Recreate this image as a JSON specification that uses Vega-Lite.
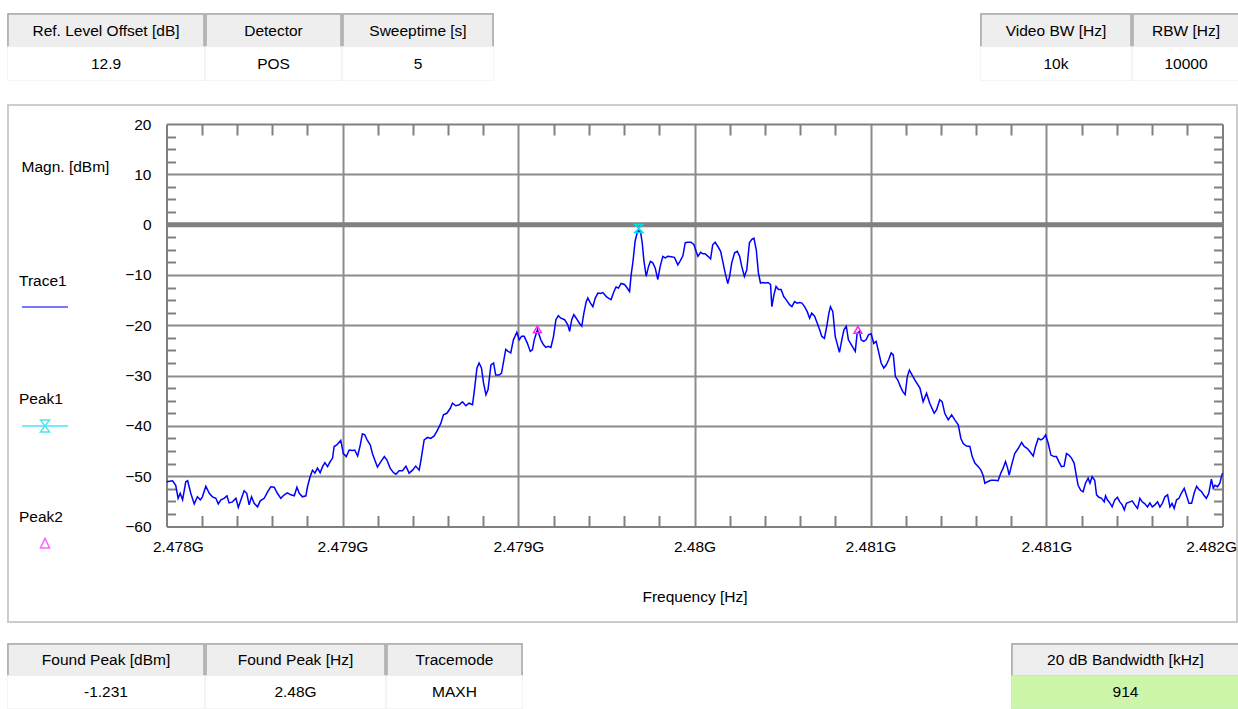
{
  "$schema": "https://vega.github.io/schema/vega-lite/v6.json",
  "background": "#ffffff",
  "padding": {"left": 6, "top": 12, "right": 0, "bottom": 0},
  "config": {
    "view": {"stroke": null},
    "axis": {
      "labelFont": "Liberation Sans", "labelFontSize": 15.5, "labelColor": "#000000",
      "titleFont": "Liberation Sans", "titleFontSize": 15.5, "titleFontWeight": "normal", "titleColor": "#000000",
      "domainColor": "#808080", "domainWidth": 2, "tickColor": "#808080", "tickWidth": 2,
      "gridColor": "#8c8c8c", "gridWidth": 2, "gridOpacity": 1
    },
    "text": {"font": "Liberation Sans", "fontSize": 15.5}
  },
  "resolve": {"scale": {"fill": "independent", "stroke": "independent", "color": "independent", "shape": "independent"}},
  "vconcat": [
    {
      "resolve": {"scale": {"fill": "independent", "stroke": "independent"}},
      "hconcat": [
        {
          "resolve": {"scale": {"fill": "independent", "stroke": "independent"}},
          "hconcat": [
            {"width": 196, "height": 66, "view": {"stroke": "#c9c9c9", "strokeWidth": 1.5, "fill": "#ffffff"},
             "data": {"values": [{"part": "header", "label": "Ref. Level Offset [dB]"}, {"part": "value", "label": "12.9"}]},
             "layer": [
               {"mark": {"type": "rect", "strokeWidth": 1.5}, "encoding": {
                 "y": {"field": "part", "type": "nominal", "scale": {"domain": ["header", "value"], "paddingInner": 0, "paddingOuter": 0}, "axis": null},
                 "fill": {"field": "part", "type": "nominal", "scale": {"domain": ["header", "value"], "range": ["#eeeeee", "#ffffff"]}, "legend": null},
                 "stroke": {"field": "part", "type": "nominal", "scale": {"domain": ["header", "value"], "range": ["#a9a9a9", "#ffffff"]}, "legend": null}}},
               {"mark": {"type": "text", "color": "#000000"}, "encoding": {"y": {"field": "part", "type": "nominal", "axis": null}, "text": {"field": "label"}}}
             ]},
            {"width": 135, "height": 66, "view": {"stroke": "#c9c9c9", "strokeWidth": 1.5, "fill": "#ffffff"},
             "data": {"values": [{"part": "header", "label": "Detector"}, {"part": "value", "label": "POS"}]},
             "layer": [
               {"mark": {"type": "rect", "strokeWidth": 1.5}, "encoding": {
                 "y": {"field": "part", "type": "nominal", "scale": {"domain": ["header", "value"], "paddingInner": 0, "paddingOuter": 0}, "axis": null},
                 "fill": {"field": "part", "type": "nominal", "scale": {"domain": ["header", "value"], "range": ["#eeeeee", "#ffffff"]}, "legend": null},
                 "stroke": {"field": "part", "type": "nominal", "scale": {"domain": ["header", "value"], "range": ["#a9a9a9", "#ffffff"]}, "legend": null}}},
               {"mark": {"type": "text", "color": "#000000"}, "encoding": {"y": {"field": "part", "type": "nominal", "axis": null}, "text": {"field": "label"}}}
             ]},
            {"width": 150, "height": 66, "view": {"stroke": "#c9c9c9", "strokeWidth": 1.5, "fill": "#ffffff"},
             "data": {"values": [{"part": "header", "label": "Sweeptime [s]"}, {"part": "value", "label": "5"}]},
             "layer": [
               {"mark": {"type": "rect", "strokeWidth": 1.5}, "encoding": {
                 "y": {"field": "part", "type": "nominal", "scale": {"domain": ["header", "value"], "paddingInner": 0, "paddingOuter": 0}, "axis": null},
                 "fill": {"field": "part", "type": "nominal", "scale": {"domain": ["header", "value"], "range": ["#eeeeee", "#ffffff"]}, "legend": null},
                 "stroke": {"field": "part", "type": "nominal", "scale": {"domain": ["header", "value"], "range": ["#a9a9a9", "#ffffff"]}, "legend": null}}},
               {"mark": {"type": "text", "color": "#000000"}, "encoding": {"y": {"field": "part", "type": "nominal", "axis": null}, "text": {"field": "label"}}}
             ]}
          ],
          "spacing": 2, "bounds": "flush"
        },
        {
          "resolve": {"scale": {"fill": "independent", "stroke": "independent"}},
          "hconcat": [
            {"width": 150, "height": 66, "view": {"stroke": "#c9c9c9", "strokeWidth": 1.5, "fill": "#ffffff"},
             "data": {"values": [{"part": "header", "label": "Video BW [Hz]"}, {"part": "value", "label": "10k"}]},
             "layer": [
               {"mark": {"type": "rect", "strokeWidth": 1.5}, "encoding": {
                 "y": {"field": "part", "type": "nominal", "scale": {"domain": ["header", "value"], "paddingInner": 0, "paddingOuter": 0}, "axis": null},
                 "fill": {"field": "part", "type": "nominal", "scale": {"domain": ["header", "value"], "range": ["#eeeeee", "#ffffff"]}, "legend": null},
                 "stroke": {"field": "part", "type": "nominal", "scale": {"domain": ["header", "value"], "range": ["#a9a9a9", "#ffffff"]}, "legend": null}}},
               {"mark": {"type": "text", "color": "#000000"}, "encoding": {"y": {"field": "part", "type": "nominal", "axis": null}, "text": {"field": "label"}}}
             ]},
            {"width": 106, "height": 66, "view": {"stroke": "#c9c9c9", "strokeWidth": 1.5, "fill": "#ffffff"},
             "data": {"values": [{"part": "header", "label": "RBW [Hz]"}, {"part": "value", "label": "10000"}]},
             "layer": [
               {"mark": {"type": "rect", "strokeWidth": 1.5}, "encoding": {
                 "y": {"field": "part", "type": "nominal", "scale": {"domain": ["header", "value"], "paddingInner": 0, "paddingOuter": 0}, "axis": null},
                 "fill": {"field": "part", "type": "nominal", "scale": {"domain": ["header", "value"], "range": ["#eeeeee", "#ffffff"]}, "legend": null},
                 "stroke": {"field": "part", "type": "nominal", "scale": {"domain": ["header", "value"], "range": ["#a9a9a9", "#ffffff"]}, "legend": null}}},
               {"mark": {"type": "text", "color": "#000000"}, "encoding": {"y": {"field": "part", "type": "nominal", "axis": null}, "text": {"field": "label"}}}
             ]}
          ],
          "spacing": 2, "bounds": "flush"
        }
      ],
      "spacing": 484
    },
    {
      "resolve": {"scale": {"fill": "independent", "stroke": "independent", "color": "independent", "shape": "independent"}},
      "vconcat": [
        {
          "width": 1229, "height": 517,
          "view": {"stroke": "#cccccc", "strokeWidth": 2, "fill": "#ffffff"},
          "resolve": {"axis": {"x": "independent", "y": "independent"}},
          "layer": [
            {
              "data": {"values": [{"level": 0}]},
              "mark": {"type": "rule", "color": "#808080", "strokeWidth": 5},
              "encoding": {
                "x": {"datum": 2478, "type": "quantitative",
                  "scale": {"domain": [2478, 2482], "range": [158.5, 1214.5], "nice": false, "zero": false},
                  "axis": {"orient": "top", "offset": -19, "values": [2478.6666667, 2479.3333333, 2480, 2480.6666667, 2481.3333333], "grid": true, "ticks": false, "labels": false, "domain": true, "title": null}},
                "x2": {"datum": 2482},
                "y": {"field": "level", "type": "quantitative",
                  "scale": {"domain": [-60, 20], "range": [421.5, 19], "nice": false, "zero": false},
                  "axis": {"orient": "left", "offset": -158.5, "values": [-50, -40, -30, -20, -10, 0, 10], "grid": true, "ticks": false, "labels": false, "domain": false, "title": null}}
              }
            },
            {
              "data": {"values": [
{"freq_mhz":2478.000,"magn_dbm":-51.1},{"freq_mhz":2478.023,"magn_dbm":-50.9},{"freq_mhz":2478.035,"magn_dbm":-51.8},{"freq_mhz":2478.044,"magn_dbm":-54.4},{"freq_mhz":2478.052,"magn_dbm":-53.4},{"freq_mhz":2478.061,"magn_dbm":-54.7},{"freq_mhz":2478.073,"magn_dbm":-51.1},{"freq_mhz":2478.080,"magn_dbm":-50.9},{"freq_mhz":2478.092,"magn_dbm":-53.4},{"freq_mhz":2478.105,"magn_dbm":-55.5},
{"freq_mhz":2478.117,"magn_dbm":-54.1},{"freq_mhz":2478.128,"magn_dbm":-54.7},{"freq_mhz":2478.136,"magn_dbm":-54.1},{"freq_mhz":2478.149,"magn_dbm":-52.0},{"freq_mhz":2478.162,"magn_dbm":-53.4},{"freq_mhz":2478.174,"magn_dbm":-54.1},{"freq_mhz":2478.187,"magn_dbm":-54.4},{"freq_mhz":2478.196,"magn_dbm":-55.5},{"freq_mhz":2478.206,"magn_dbm":-54.7},{"freq_mhz":2478.218,"magn_dbm":-54.4},
{"freq_mhz":2478.229,"magn_dbm":-53.9},{"freq_mhz":2478.237,"magn_dbm":-55.3},{"freq_mhz":2478.250,"magn_dbm":-55.1},{"freq_mhz":2478.263,"magn_dbm":-54.4},{"freq_mhz":2478.272,"magn_dbm":-56.2},{"freq_mhz":2478.284,"magn_dbm":-54.4},{"freq_mhz":2478.294,"magn_dbm":-52.9},{"freq_mhz":2478.304,"magn_dbm":-53.4},{"freq_mhz":2478.313,"magn_dbm":-55.7},{"freq_mhz":2478.322,"magn_dbm":-54.1},
{"freq_mhz":2478.332,"magn_dbm":-55.4},{"freq_mhz":2478.345,"magn_dbm":-56.1},{"freq_mhz":2478.355,"magn_dbm":-54.9},{"freq_mhz":2478.370,"magn_dbm":-54.4},{"freq_mhz":2478.383,"magn_dbm":-53.1},{"freq_mhz":2478.395,"magn_dbm":-52.1},{"freq_mhz":2478.408,"magn_dbm":-52.2},{"freq_mhz":2478.420,"magn_dbm":-53.4},{"freq_mhz":2478.433,"magn_dbm":-54.4},{"freq_mhz":2478.446,"magn_dbm":-53.7},
{"freq_mhz":2478.458,"magn_dbm":-53.3},{"freq_mhz":2478.471,"magn_dbm":-53.7},{"freq_mhz":2478.484,"magn_dbm":-53.9},{"freq_mhz":2478.494,"magn_dbm":-52.2},{"freq_mhz":2478.503,"magn_dbm":-53.4},{"freq_mhz":2478.515,"magn_dbm":-54.1},{"freq_mhz":2478.528,"magn_dbm":-53.9},{"freq_mhz":2478.534,"magn_dbm":-52.1},{"freq_mhz":2478.544,"magn_dbm":-50.1},{"freq_mhz":2478.553,"magn_dbm":-48.8},
{"freq_mhz":2478.562,"magn_dbm":-49.4},{"freq_mhz":2478.572,"magn_dbm":-48.4},{"freq_mhz":2478.582,"magn_dbm":-49.3},{"freq_mhz":2478.591,"magn_dbm":-48.1},{"freq_mhz":2478.600,"magn_dbm":-47.3},{"freq_mhz":2478.610,"magn_dbm":-48.1},{"freq_mhz":2478.620,"magn_dbm":-47.1},{"freq_mhz":2478.629,"magn_dbm":-46.4},{"freq_mhz":2478.635,"magn_dbm":-44.1},{"freq_mhz":2478.645,"magn_dbm":-43.8},
{"freq_mhz":2478.660,"magn_dbm":-42.9},{"freq_mhz":2478.670,"magn_dbm":-45.5},{"freq_mhz":2478.681,"magn_dbm":-46.1},{"freq_mhz":2478.692,"magn_dbm":-44.8},{"freq_mhz":2478.705,"magn_dbm":-44.9},{"freq_mhz":2478.713,"magn_dbm":-44.8},{"freq_mhz":2478.724,"magn_dbm":-46.0},{"freq_mhz":2478.734,"magn_dbm":-43.8},{"freq_mhz":2478.742,"magn_dbm":-41.6},{"freq_mhz":2478.751,"magn_dbm":-41.8},
{"freq_mhz":2478.761,"magn_dbm":-42.9},{"freq_mhz":2478.772,"magn_dbm":-43.8},{"freq_mhz":2478.780,"magn_dbm":-45.5},{"freq_mhz":2478.789,"magn_dbm":-46.8},{"freq_mhz":2478.799,"magn_dbm":-48.2},{"freq_mhz":2478.812,"magn_dbm":-47.1},{"freq_mhz":2478.825,"magn_dbm":-46.1},{"freq_mhz":2478.835,"magn_dbm":-46.8},{"freq_mhz":2478.847,"magn_dbm":-48.4},{"freq_mhz":2478.860,"magn_dbm":-49.3},
{"freq_mhz":2478.869,"magn_dbm":-49.6},{"freq_mhz":2478.881,"magn_dbm":-48.9},{"freq_mhz":2478.894,"magn_dbm":-48.9},{"freq_mhz":2478.907,"magn_dbm":-48.0},{"freq_mhz":2478.919,"magn_dbm":-49.4},{"freq_mhz":2478.932,"magn_dbm":-48.8},{"freq_mhz":2478.944,"magn_dbm":-48.0},{"freq_mhz":2478.957,"magn_dbm":-48.8},{"freq_mhz":2478.963,"magn_dbm":-47.1},{"freq_mhz":2478.976,"magn_dbm":-42.8},
{"freq_mhz":2478.989,"magn_dbm":-42.3},{"freq_mhz":2479.001,"magn_dbm":-42.5},{"freq_mhz":2479.014,"magn_dbm":-42.0},{"freq_mhz":2479.027,"magn_dbm":-40.8},{"freq_mhz":2479.039,"magn_dbm":-39.5},{"freq_mhz":2479.049,"magn_dbm":-37.8},{"freq_mhz":2479.062,"magn_dbm":-37.5},{"freq_mhz":2479.075,"magn_dbm":-36.5},{"freq_mhz":2479.083,"magn_dbm":-35.5},{"freq_mhz":2479.096,"magn_dbm":-36.0},
{"freq_mhz":2479.109,"magn_dbm":-35.8},{"freq_mhz":2479.121,"magn_dbm":-35.2},{"freq_mhz":2479.134,"magn_dbm":-36.0},{"freq_mhz":2479.146,"magn_dbm":-35.5},{"freq_mhz":2479.159,"magn_dbm":-35.8},{"freq_mhz":2479.165,"magn_dbm":-33.5},{"freq_mhz":2479.176,"magn_dbm":-28.5},{"freq_mhz":2479.184,"magn_dbm":-27.5},{"freq_mhz":2479.193,"magn_dbm":-28.5},{"freq_mhz":2479.201,"magn_dbm":-31.5},
{"freq_mhz":2479.210,"magn_dbm":-33.8},{"freq_mhz":2479.218,"magn_dbm":-32.8},{"freq_mhz":2479.229,"magn_dbm":-27.9},{"freq_mhz":2479.239,"magn_dbm":-27.5},{"freq_mhz":2479.247,"magn_dbm":-29.9},{"freq_mhz":2479.260,"magn_dbm":-29.9},{"freq_mhz":2479.269,"magn_dbm":-29.5},{"freq_mhz":2479.277,"magn_dbm":-27.2},{"freq_mhz":2479.285,"magn_dbm":-24.8},{"freq_mhz":2479.294,"magn_dbm":-25.2},
{"freq_mhz":2479.304,"magn_dbm":-25.5},{"freq_mhz":2479.314,"magn_dbm":-22.9},{"freq_mhz":2479.327,"magn_dbm":-21.4},{"freq_mhz":2479.336,"magn_dbm":-22.9},{"freq_mhz":2479.345,"magn_dbm":-22.2},{"freq_mhz":2479.355,"magn_dbm":-22.2},{"freq_mhz":2479.367,"magn_dbm":-23.6},{"freq_mhz":2479.378,"magn_dbm":-25.2},{"freq_mhz":2479.386,"magn_dbm":-24.9},{"freq_mhz":2479.393,"magn_dbm":-22.9},
{"freq_mhz":2479.405,"magn_dbm":-20.9},{"freq_mhz":2479.418,"magn_dbm":-22.9},{"freq_mhz":2479.428,"magn_dbm":-23.9},{"freq_mhz":2479.437,"magn_dbm":-24.4},{"freq_mhz":2479.446,"magn_dbm":-24.2},{"freq_mhz":2479.456,"magn_dbm":-24.4},{"freq_mhz":2479.466,"magn_dbm":-22.2},{"freq_mhz":2479.475,"magn_dbm":-18.9},{"freq_mhz":2479.484,"magn_dbm":-18.1},{"freq_mhz":2479.494,"magn_dbm":-18.6},
{"freq_mhz":2479.508,"magn_dbm":-18.9},{"freq_mhz":2479.520,"magn_dbm":-19.9},{"freq_mhz":2479.527,"magn_dbm":-21.2},{"freq_mhz":2479.535,"magn_dbm":-18.9},{"freq_mhz":2479.543,"magn_dbm":-17.9},{"freq_mhz":2479.552,"magn_dbm":-18.6},{"freq_mhz":2479.564,"magn_dbm":-19.6},{"freq_mhz":2479.573,"magn_dbm":-20.2},{"freq_mhz":2479.581,"magn_dbm":-17.6},{"freq_mhz":2479.590,"magn_dbm":-15.3},
{"freq_mhz":2479.596,"magn_dbm":-14.6},{"freq_mhz":2479.606,"magn_dbm":-15.6},{"freq_mhz":2479.615,"magn_dbm":-16.3},{"freq_mhz":2479.624,"magn_dbm":-14.6},{"freq_mhz":2479.634,"magn_dbm":-13.6},{"freq_mhz":2479.644,"magn_dbm":-13.7},{"freq_mhz":2479.653,"magn_dbm":-13.5},{"freq_mhz":2479.666,"magn_dbm":-14.3},{"freq_mhz":2479.674,"magn_dbm":-14.6},{"freq_mhz":2479.684,"magn_dbm":-14.9},
{"freq_mhz":2479.695,"magn_dbm":-13.3},{"freq_mhz":2479.703,"magn_dbm":-12.4},{"freq_mhz":2479.712,"magn_dbm":-12.6},{"freq_mhz":2479.722,"magn_dbm":-11.7},{"freq_mhz":2479.735,"magn_dbm":-11.9},{"freq_mhz":2479.745,"magn_dbm":-12.6},{"freq_mhz":2479.754,"magn_dbm":-13.3},{"freq_mhz":2479.760,"magn_dbm":-10.0},{"freq_mhz":2479.767,"magn_dbm":-7.3},{"freq_mhz":2479.775,"magn_dbm":-3.3},
{"freq_mhz":2479.783,"magn_dbm":-1.6},{"freq_mhz":2479.789,"magn_dbm":-1.231},{"freq_mhz":2479.796,"magn_dbm":-1.6},{"freq_mhz":2479.802,"magn_dbm":-3.6},{"freq_mhz":2479.808,"magn_dbm":-7.0},{"freq_mhz":2479.817,"magn_dbm":-10.3},{"freq_mhz":2479.826,"magn_dbm":-8.3},{"freq_mhz":2479.833,"magn_dbm":-7.3},{"freq_mhz":2479.842,"magn_dbm":-7.6},{"freq_mhz":2479.851,"magn_dbm":-8.6},
{"freq_mhz":2479.861,"magn_dbm":-10.9},{"freq_mhz":2479.870,"magn_dbm":-8.3},{"freq_mhz":2479.880,"magn_dbm":-6.3},{"freq_mhz":2479.889,"magn_dbm":-6.6},{"freq_mhz":2479.899,"magn_dbm":-6.3},{"freq_mhz":2479.912,"magn_dbm":-6.4},{"freq_mhz":2479.924,"magn_dbm":-6.5},{"freq_mhz":2479.937,"magn_dbm":-8.0},{"freq_mhz":2479.947,"magn_dbm":-7.1},{"freq_mhz":2479.956,"magn_dbm":-6.2},
{"freq_mhz":2479.965,"magn_dbm":-3.6},{"freq_mhz":2479.975,"magn_dbm":-3.5},{"freq_mhz":2479.987,"magn_dbm":-3.5},{"freq_mhz":2479.998,"magn_dbm":-4.0},{"freq_mhz":2480.006,"magn_dbm":-5.3},{"freq_mhz":2480.013,"magn_dbm":-6.3},{"freq_mhz":2480.023,"magn_dbm":-5.5},{"freq_mhz":2480.032,"magn_dbm":-5.8},{"freq_mhz":2480.040,"magn_dbm":-5.8},{"freq_mhz":2480.051,"magn_dbm":-6.3},
{"freq_mhz":2480.061,"magn_dbm":-6.8},{"freq_mhz":2480.069,"magn_dbm":-4.0},{"freq_mhz":2480.078,"magn_dbm":-3.5},{"freq_mhz":2480.088,"magn_dbm":-4.3},{"freq_mhz":2480.099,"magn_dbm":-5.3},{"freq_mhz":2480.107,"magn_dbm":-7.3},{"freq_mhz":2480.116,"magn_dbm":-9.6},{"freq_mhz":2480.126,"magn_dbm":-11.7},{"freq_mhz":2480.133,"magn_dbm":-10.3},{"freq_mhz":2480.141,"magn_dbm":-7.6},
{"freq_mhz":2480.152,"magn_dbm":-5.6},{"freq_mhz":2480.162,"magn_dbm":-5.3},{"freq_mhz":2480.171,"magn_dbm":-6.3},{"freq_mhz":2480.179,"magn_dbm":-8.3},{"freq_mhz":2480.189,"magn_dbm":-10.3},{"freq_mhz":2480.198,"magn_dbm":-9.0},{"freq_mhz":2480.208,"magn_dbm":-3.6},{"freq_mhz":2480.217,"magn_dbm":-2.9},{"freq_mhz":2480.225,"magn_dbm":-2.7},{"freq_mhz":2480.234,"magn_dbm":-5.0},
{"freq_mhz":2480.242,"magn_dbm":-9.6},{"freq_mhz":2480.250,"magn_dbm":-11.6},{"freq_mhz":2480.259,"magn_dbm":-11.5},{"freq_mhz":2480.268,"magn_dbm":-11.6},{"freq_mhz":2480.278,"magn_dbm":-11.5},{"freq_mhz":2480.288,"magn_dbm":-11.9},{"freq_mhz":2480.293,"magn_dbm":-16.3},{"freq_mhz":2480.301,"magn_dbm":-13.9},{"freq_mhz":2480.309,"magn_dbm":-12.3},{"freq_mhz":2480.318,"magn_dbm":-12.9},
{"freq_mhz":2480.328,"magn_dbm":-12.9},{"freq_mhz":2480.338,"magn_dbm":-14.3},{"freq_mhz":2480.347,"magn_dbm":-14.9},{"freq_mhz":2480.360,"magn_dbm":-15.9},{"freq_mhz":2480.369,"magn_dbm":-16.3},{"freq_mhz":2480.379,"magn_dbm":-15.3},{"freq_mhz":2480.389,"magn_dbm":-15.6},{"freq_mhz":2480.398,"magn_dbm":-15.5},{"freq_mhz":2480.407,"magn_dbm":-15.6},{"freq_mhz":2480.417,"magn_dbm":-16.3},
{"freq_mhz":2480.427,"magn_dbm":-17.3},{"freq_mhz":2480.436,"magn_dbm":-18.6},{"freq_mhz":2480.444,"magn_dbm":-17.6},{"freq_mhz":2480.455,"magn_dbm":-18.2},{"freq_mhz":2480.465,"magn_dbm":-19.6},{"freq_mhz":2480.474,"magn_dbm":-20.9},{"freq_mhz":2480.482,"magn_dbm":-22.2},{"freq_mhz":2480.492,"magn_dbm":-22.6},{"freq_mhz":2480.501,"magn_dbm":-20.2},{"freq_mhz":2480.509,"magn_dbm":-17.6},
{"freq_mhz":2480.515,"magn_dbm":-16.3},{"freq_mhz":2480.524,"magn_dbm":-17.3},{"freq_mhz":2480.533,"magn_dbm":-22.2},{"freq_mhz":2480.540,"magn_dbm":-23.6},{"freq_mhz":2480.549,"magn_dbm":-25.4},{"freq_mhz":2480.558,"magn_dbm":-22.9},{"freq_mhz":2480.566,"magn_dbm":-20.9},{"freq_mhz":2480.575,"magn_dbm":-20.2},{"freq_mhz":2480.583,"magn_dbm":-22.9},{"freq_mhz":2480.591,"magn_dbm":-23.6},
{"freq_mhz":2480.600,"magn_dbm":-24.4},{"freq_mhz":2480.609,"magn_dbm":-25.2},{"freq_mhz":2480.616,"magn_dbm":-21.6},{"freq_mhz":2480.625,"magn_dbm":-21.2},{"freq_mhz":2480.631,"magn_dbm":-22.9},{"freq_mhz":2480.641,"magn_dbm":-23.2},{"freq_mhz":2480.650,"magn_dbm":-22.9},{"freq_mhz":2480.659,"magn_dbm":-21.9},{"freq_mhz":2480.669,"magn_dbm":-21.7},{"freq_mhz":2480.679,"magn_dbm":-23.6},
{"freq_mhz":2480.688,"magn_dbm":-23.2},{"freq_mhz":2480.697,"magn_dbm":-25.2},{"freq_mhz":2480.707,"magn_dbm":-27.5},{"freq_mhz":2480.717,"magn_dbm":-28.5},{"freq_mhz":2480.726,"magn_dbm":-27.9},{"freq_mhz":2480.735,"magn_dbm":-26.9},{"freq_mhz":2480.745,"magn_dbm":-25.5},{"freq_mhz":2480.753,"magn_dbm":-25.9},{"freq_mhz":2480.761,"magn_dbm":-30.2},{"freq_mhz":2480.770,"magn_dbm":-30.9},
{"freq_mhz":2480.780,"magn_dbm":-32.2},{"freq_mhz":2480.789,"magn_dbm":-33.2},{"freq_mhz":2480.798,"magn_dbm":-33.8},{"freq_mhz":2480.806,"magn_dbm":-30.2},{"freq_mhz":2480.814,"magn_dbm":-28.9},{"freq_mhz":2480.835,"magn_dbm":-30.9},{"freq_mhz":2480.854,"magn_dbm":-32.5},{"freq_mhz":2480.866,"magn_dbm":-35.2},{"freq_mhz":2480.879,"magn_dbm":-33.5},{"freq_mhz":2480.891,"magn_dbm":-35.5},
{"freq_mhz":2480.908,"magn_dbm":-37.5},{"freq_mhz":2480.917,"magn_dbm":-36.8},{"freq_mhz":2480.929,"magn_dbm":-34.8},{"freq_mhz":2480.938,"magn_dbm":-35.2},{"freq_mhz":2480.948,"magn_dbm":-37.5},{"freq_mhz":2480.961,"magn_dbm":-38.8},{"freq_mhz":2480.974,"magn_dbm":-37.8},{"freq_mhz":2480.986,"magn_dbm":-38.8},{"freq_mhz":2480.999,"magn_dbm":-39.8},{"freq_mhz":2481.009,"magn_dbm":-42.5},
{"freq_mhz":2481.018,"magn_dbm":-43.5},{"freq_mhz":2481.030,"magn_dbm":-44.0},{"freq_mhz":2481.043,"magn_dbm":-44.1},{"freq_mhz":2481.052,"magn_dbm":-46.1},{"freq_mhz":2481.062,"magn_dbm":-47.4},{"freq_mhz":2481.075,"magn_dbm":-48.1},{"freq_mhz":2481.085,"magn_dbm":-48.8},{"freq_mhz":2481.093,"magn_dbm":-49.8},{"freq_mhz":2481.100,"magn_dbm":-51.4},{"freq_mhz":2481.110,"magn_dbm":-51.1},
{"freq_mhz":2481.123,"magn_dbm":-50.8},{"freq_mhz":2481.138,"magn_dbm":-50.8},{"freq_mhz":2481.150,"magn_dbm":-50.9},{"freq_mhz":2481.160,"magn_dbm":-49.4},{"freq_mhz":2481.169,"magn_dbm":-48.4},{"freq_mhz":2481.178,"magn_dbm":-47.1},{"freq_mhz":2481.186,"magn_dbm":-48.4},{"freq_mhz":2481.192,"magn_dbm":-49.8},{"freq_mhz":2481.201,"magn_dbm":-47.8},{"freq_mhz":2481.213,"magn_dbm":-45.5},
{"freq_mhz":2481.226,"magn_dbm":-44.5},{"freq_mhz":2481.239,"magn_dbm":-43.3},{"freq_mhz":2481.249,"magn_dbm":-44.1},{"freq_mhz":2481.261,"magn_dbm":-44.5},{"freq_mhz":2481.270,"magn_dbm":-45.1},{"freq_mhz":2481.283,"magn_dbm":-46.0},{"freq_mhz":2481.292,"magn_dbm":-44.1},{"freq_mhz":2481.302,"magn_dbm":-42.5},{"freq_mhz":2481.312,"magn_dbm":-42.8},{"freq_mhz":2481.321,"magn_dbm":-42.5},
{"freq_mhz":2481.330,"magn_dbm":-41.8},{"freq_mhz":2481.340,"magn_dbm":-43.5},{"freq_mhz":2481.350,"magn_dbm":-45.8},{"freq_mhz":2481.362,"magn_dbm":-46.1},{"freq_mhz":2481.371,"magn_dbm":-46.1},{"freq_mhz":2481.380,"magn_dbm":-47.1},{"freq_mhz":2481.390,"magn_dbm":-48.1},{"freq_mhz":2481.400,"magn_dbm":-48.0},{"freq_mhz":2481.409,"magn_dbm":-45.5},{"freq_mhz":2481.418,"magn_dbm":-45.8},
{"freq_mhz":2481.428,"magn_dbm":-46.4},{"freq_mhz":2481.438,"magn_dbm":-47.4},{"freq_mhz":2481.447,"magn_dbm":-50.1},{"freq_mhz":2481.453,"magn_dbm":-51.8},{"freq_mhz":2481.463,"magn_dbm":-52.8},{"freq_mhz":2481.472,"magn_dbm":-53.1},{"freq_mhz":2481.481,"magn_dbm":-51.4},{"freq_mhz":2481.491,"magn_dbm":-50.4},{"freq_mhz":2481.498,"magn_dbm":-51.4},{"freq_mhz":2481.506,"magn_dbm":-50.1},
{"freq_mhz":2481.516,"magn_dbm":-50.8},{"freq_mhz":2481.523,"magn_dbm":-53.7},{"freq_mhz":2481.532,"magn_dbm":-54.2},{"freq_mhz":2481.542,"magn_dbm":-54.4},{"freq_mhz":2481.552,"magn_dbm":-55.1},{"freq_mhz":2481.557,"magn_dbm":-53.9},{"freq_mhz":2481.564,"magn_dbm":-54.7},{"freq_mhz":2481.573,"magn_dbm":-55.3},{"freq_mhz":2481.582,"magn_dbm":-56.1},{"freq_mhz":2481.592,"magn_dbm":-54.7},
{"freq_mhz":2481.602,"magn_dbm":-54.2},{"freq_mhz":2481.611,"magn_dbm":-55.1},{"freq_mhz":2481.620,"magn_dbm":-55.7},{"freq_mhz":2481.628,"magn_dbm":-56.7},{"freq_mhz":2481.636,"magn_dbm":-55.4},{"freq_mhz":2481.649,"magn_dbm":-55.1},{"freq_mhz":2481.658,"magn_dbm":-54.9},{"freq_mhz":2481.668,"magn_dbm":-55.7},{"freq_mhz":2481.678,"magn_dbm":-56.4},{"freq_mhz":2481.687,"magn_dbm":-54.4},
{"freq_mhz":2481.696,"magn_dbm":-55.1},{"freq_mhz":2481.706,"magn_dbm":-55.5},{"freq_mhz":2481.716,"magn_dbm":-56.1},{"freq_mhz":2481.725,"magn_dbm":-55.3},{"freq_mhz":2481.734,"magn_dbm":-56.1},{"freq_mhz":2481.744,"magn_dbm":-55.7},{"freq_mhz":2481.754,"magn_dbm":-55.1},{"freq_mhz":2481.763,"magn_dbm":-56.1},{"freq_mhz":2481.772,"magn_dbm":-55.4},{"freq_mhz":2481.782,"magn_dbm":-54.1},
{"freq_mhz":2481.792,"magn_dbm":-53.7},{"freq_mhz":2481.801,"magn_dbm":-56.1},{"freq_mhz":2481.809,"magn_dbm":-55.4},{"freq_mhz":2481.817,"magn_dbm":-56.4},{"freq_mhz":2481.826,"magn_dbm":-54.7},{"freq_mhz":2481.835,"magn_dbm":-54.4},{"freq_mhz":2481.845,"magn_dbm":-53.3},{"freq_mhz":2481.855,"magn_dbm":-52.4},{"freq_mhz":2481.864,"magn_dbm":-53.9},{"freq_mhz":2481.873,"magn_dbm":-55.4},
{"freq_mhz":2481.883,"magn_dbm":-55.4},{"freq_mhz":2481.893,"magn_dbm":-53.3},{"freq_mhz":2481.902,"magn_dbm":-52.0},{"freq_mhz":2481.910,"magn_dbm":-52.6},{"freq_mhz":2481.921,"magn_dbm":-53.1},{"freq_mhz":2481.931,"magn_dbm":-53.9},{"freq_mhz":2481.939,"magn_dbm":-54.4},{"freq_mhz":2481.948,"magn_dbm":-53.4},{"freq_mhz":2481.958,"magn_dbm":-50.6},{"freq_mhz":2481.965,"magn_dbm":-52.4},
{"freq_mhz":2481.971,"magn_dbm":-51.8},{"freq_mhz":2481.981,"magn_dbm":-52.1},{"freq_mhz":2481.990,"magn_dbm":-51.4},{"freq_mhz":2481.996,"magn_dbm":-50.1},{"freq_mhz":2482.000,"magn_dbm":-49.4}
              ]},
              "mark": {"type": "line", "color": "#0000ff", "strokeWidth": 1.5},
              "encoding": {
                "x": {"field": "freq_mhz", "type": "quantitative",
                  "axis": {"orient": "bottom", "offset": -95.5, "values": [2478, 2478.6666667, 2479.3333333, 2480, 2480.6666667, 2481.3333333, 2482],
                    "grid": false, "ticks": false, "tickSize": 0, "domain": true, "labelExpr": "format(datum.value / 1000, '.4~r') + 'G'",
                    "labelFlush": true, "labelFlushOffset": 14, "labelPadding": 13, "labelOverlap": false,
                    "title": "Frequency [Hz]", "titleY": 69.5, "titleBaseline": "middle"}},
                "y": {"field": "magn_dbm", "type": "quantitative",
                  "axis": {"orient": "left", "offset": -158.5, "values": [-60, -50, -40, -30, -20, -10, 0, 10, 20],
                    "grid": false, "ticks": false, "tickSize": 0, "domain": true, "labelPadding": 15.5, "labelFlush": false, "labelOverlap": false,
                    "title": "Magn. [dBm]", "titleAngle": 0, "titleAlign": "left", "titleBaseline": "middle", "titleX": -145.5, "titleY": 61}}
              }
            },
            {
              "data": {"values": [{"marker": "Peak1", "freq_mhz": 2479.789, "magn_dbm": -1.231}]},
              "mark": {"type": "point", "shape": "M-1,-1.6L1,-1.6L-1,0.4L1,0.4Z", "filled": false, "stroke": "#00dde6", "strokeWidth": 1.5, "size": 64, "opacity": 1},
              "encoding": {
                "x": {"field": "freq_mhz", "type": "quantitative",
                  "axis": {"orient": "top", "offset": -19, "values": [2478.1333333, 2478.2666667, 2478.4, 2478.5333333, 2478.8, 2478.9333333, 2479.0666667, 2479.2, 2479.4666667, 2479.6, 2479.7333333, 2479.8666667, 2480.1333333, 2480.2666667, 2480.4, 2480.5333333, 2480.8, 2480.9333333, 2481.0666667, 2481.2, 2481.4666667, 2481.6, 2481.7333333, 2481.8666667],
                    "grid": false, "ticks": true, "tickSize": -11, "labels": false, "domain": false, "title": null}},
                "y": {"field": "magn_dbm", "type": "quantitative",
                  "axis": {"orient": "left", "offset": -158.5, "values": [17.5, 15, 12.5, 7.5, 5, 2.5, -2.5, -5, -7.5, -12.5, -15, -17.5, -22.5, -25, -27.5, -32.5, -35, -37.5, -42.5, -45, -47.5, -52.5, -55, -57.5],
                    "grid": false, "ticks": true, "tickSize": -9, "labels": false, "domain": false, "title": null}}
              }
            },
            {
              "data": {"values": [{"marker": "Peak2", "freq_mhz": 2479.405, "magn_dbm": -20.8}, {"marker": "Peak2", "freq_mhz": 2480.619, "magn_dbm": -20.9}]},
              "mark": {"type": "point", "shape": "triangle-up", "filled": false, "stroke": "#ff22ff", "strokeWidth": 1.5, "size": 60, "opacity": 1},
              "encoding": {
                "x": {"field": "freq_mhz", "type": "quantitative",
                  "axis": {"orient": "bottom", "offset": -95.5, "values": [2478.1333333, 2478.2666667, 2478.4, 2478.5333333, 2478.8, 2478.9333333, 2479.0666667, 2479.2, 2479.4666667, 2479.6, 2479.7333333, 2479.8666667, 2480.1333333, 2480.2666667, 2480.4, 2480.5333333, 2480.8, 2480.9333333, 2481.0666667, 2481.2, 2481.4666667, 2481.6, 2481.7333333, 2481.8666667],
                    "grid": false, "ticks": true, "tickSize": -11, "labels": false, "domain": false, "title": null}},
                "y": {"field": "magn_dbm", "type": "quantitative",
                  "axis": {"orient": "right", "offset": -14.5, "values": [17.5, 15, 12.5, 7.5, 5, 2.5, -2.5, -5, -7.5, -12.5, -15, -17.5, -22.5, -25, -27.5, -32.5, -35, -37.5, -42.5, -45, -47.5, -52.5, -55, -57.5],
                    "grid": false, "ticks": true, "tickSize": -9, "labels": false, "domain": true, "title": null}}
              }
            },
            {
              "data": {"values": []},
              "mark": {"type": "point", "filled": false, "strokeWidth": 1.5},
              "encoding": {
                "x": {"field": "freq_mhz", "type": "quantitative", "axis": null},
                "y": {"field": "magn_dbm", "type": "quantitative", "axis": null},
                "color": {"field": "series", "type": "nominal",
                  "scale": {"domain": ["Trace1", "Peak1", "Peak2"], "range": ["#0000ff", "#00dde6", "#ff22ff"]},
                  "legend": {"orient": "none", "legendX": 13, "legendY": 152, "direction": "vertical", "title": null,
                    "symbolSize": 2116, "symbolStrokeWidth": 1.5, "symbolFillColor": "transparent",
                    "labelFont": "Liberation Sans", "labelFontSize": 15.5, "labelColor": "#000000", "labelOffset": -50, "labelAlign": "left", "labelBaseline": "middle",
                    "rowPadding": 58, "padding": 0, "offset": 0}},
                "shape": {"field": "series", "type": "nominal",
                  "scale": {"domain": ["Trace1", "Peak1", "Peak2"], "range": ["M-1,1.13L1,1.13M1,1.43L1,1.43", "M-1,1.17L1,1.17M-0.2,0.91L0.2,0.91L-0.2,1.43L0.2,1.43Z", "M0,0.93L0.2,1.35L-0.2,1.35ZM0.2,1.43L0.2,1.43"]},
                  "legend": {"orient": "none", "legendX": 13, "legendY": 152, "direction": "vertical", "title": null,
                    "symbolSize": 2116, "symbolStrokeWidth": 1.5, "symbolFillColor": "transparent",
                    "labelFont": "Liberation Sans", "labelFontSize": 15.5, "labelColor": "#000000", "labelOffset": -50, "labelAlign": "left", "labelBaseline": "middle",
                    "rowPadding": 58, "padding": 0, "offset": 0}}
              }
            }
          ]
        },
        {
          "resolve": {"scale": {"fill": "independent", "stroke": "independent"}},
          "hconcat": [
            {
              "resolve": {"scale": {"fill": "independent", "stroke": "independent"}},
              "hconcat": [
                {"width": 196, "height": 64, "view": {"stroke": "#c9c9c9", "strokeWidth": 1.5, "fill": "#ffffff"},
                 "data": {"values": [{"part": "header", "label": "Found Peak [dBm]"}, {"part": "value", "label": "-1.231"}]},
                 "layer": [
                   {"mark": {"type": "rect", "strokeWidth": 1.5}, "encoding": {
                     "y": {"field": "part", "type": "nominal", "scale": {"domain": ["header", "value"], "paddingInner": 0, "paddingOuter": 0}, "axis": null},
                     "fill": {"field": "part", "type": "nominal", "scale": {"domain": ["header", "value"], "range": ["#eeeeee", "#ffffff"]}, "legend": null},
                     "stroke": {"field": "part", "type": "nominal", "scale": {"domain": ["header", "value"], "range": ["#a9a9a9", "#ffffff"]}, "legend": null}}},
                   {"mark": {"type": "text", "color": "#000000"}, "encoding": {"y": {"field": "part", "type": "nominal", "axis": null}, "text": {"field": "label"}}}
                 ]},
                {"width": 179, "height": 64, "view": {"stroke": "#c9c9c9", "strokeWidth": 1.5, "fill": "#ffffff"},
                 "data": {"values": [{"part": "header", "label": "Found Peak [Hz]"}, {"part": "value", "label": "2.48G"}]},
                 "layer": [
                   {"mark": {"type": "rect", "strokeWidth": 1.5}, "encoding": {
                     "y": {"field": "part", "type": "nominal", "scale": {"domain": ["header", "value"], "paddingInner": 0, "paddingOuter": 0}, "axis": null},
                     "fill": {"field": "part", "type": "nominal", "scale": {"domain": ["header", "value"], "range": ["#eeeeee", "#ffffff"]}, "legend": null},
                     "stroke": {"field": "part", "type": "nominal", "scale": {"domain": ["header", "value"], "range": ["#a9a9a9", "#ffffff"]}, "legend": null}}},
                   {"mark": {"type": "text", "color": "#000000"}, "encoding": {"y": {"field": "part", "type": "nominal", "axis": null}, "text": {"field": "label"}}}
                 ]},
                {"width": 135, "height": 64, "view": {"stroke": "#c9c9c9", "strokeWidth": 1.5, "fill": "#ffffff"},
                 "data": {"values": [{"part": "header", "label": "Tracemode"}, {"part": "value", "label": "MAXH"}]},
                 "layer": [
                   {"mark": {"type": "rect", "strokeWidth": 1.5}, "encoding": {
                     "y": {"field": "part", "type": "nominal", "scale": {"domain": ["header", "value"], "paddingInner": 0, "paddingOuter": 0}, "axis": null},
                     "fill": {"field": "part", "type": "nominal", "scale": {"domain": ["header", "value"], "range": ["#eeeeee", "#ffffff"]}, "legend": null},
                     "stroke": {"field": "part", "type": "nominal", "scale": {"domain": ["header", "value"], "range": ["#a9a9a9", "#ffffff"]}, "legend": null}}},
                   {"mark": {"type": "text", "color": "#000000"}, "encoding": {"y": {"field": "part", "type": "nominal", "axis": null}, "text": {"field": "label"}}}
                 ]}
              ],
              "spacing": 2, "bounds": "flush"
            },
            {"width": 227, "height": 64, "view": {"stroke": "#a8dc8c", "strokeWidth": 1.5, "fill": "#ffffff"},
             "data": {"values": [{"part": "header", "label": "20 dB Bandwidth [kHz]"}, {"part": "value", "label": "914"}]},
             "layer": [
               {"mark": {"type": "rect", "strokeWidth": 1.5}, "encoding": {
                 "y": {"field": "part", "type": "nominal", "scale": {"domain": ["header", "value"], "paddingInner": 0, "paddingOuter": 0}, "axis": null},
                 "fill": {"field": "part", "type": "nominal", "scale": {"domain": ["header", "value"], "range": ["#eeeeee", "#cdf6ab"]}, "legend": null},
                 "stroke": {"field": "part", "type": "nominal", "scale": {"domain": ["header", "value"], "range": ["#a9a9a9", "#cdf6ab"]}, "legend": null}}},
               {"mark": {"type": "text", "color": "#000000"}, "encoding": {"y": {"field": "part", "type": "nominal", "axis": null}, "text": {"field": "label"}}}
             ]}
          ],
          "spacing": 486
        }
      ],
      "spacing": 19
    }
  ],
  "spacing": 22
}
